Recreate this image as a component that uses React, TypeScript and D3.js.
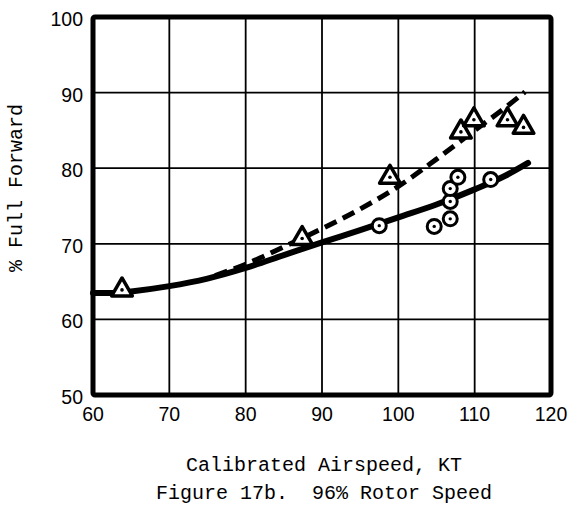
import React from "react";
import * as d3 from "d3";

const xTicks = [60, 70, 80, 90, 100, 110, 120];
const yTicks = [50, 60, 70, 80, 90, 100];

const triangleX = [63.8, 87.4, 98.9, 108.2, 109.9, 114.3, 116.4];
const triangleY = [63.9, 70.7, 78.8, 84.8, 86.4, 86.4, 85.4];

const circleX = [97.5, 104.7, 106.8, 106.8, 106.8, 107.8, 112.1];
const circleY = [72.4, 72.3, 73.3, 75.6, 77.3, 78.8, 78.5];

const solidX = [60, 63, 65, 70, 75, 80, 85, 90, 95, 100, 105, 110, 114, 117];
const solidY = [63.5, 63.5, 63.7, 64.4, 65.4, 66.8, 68.5, 70.2, 71.8, 73.5, 75.2, 77.2, 79, 80.7];

const dashX = [76, 80, 85, 90, 95, 100, 105, 110, 114, 116.6];
const dashY = [65.8, 67.3, 69.6, 72, 74.6, 77.6, 81.2, 85, 88, 90.1];

const W = 568;
const H = 507;
const M = { left: 93, right: 551, top: 17, bottom: 395 };

export default function App() {
  const x = d3.scaleLinear().domain([60, 120]).range([M.left, M.right]);
  const y = d3.scaleLinear().domain([50, 100]).range([M.bottom, M.top]);
  const line = d3
    .line<[number, number]>()
    .x((d) => x(d[0]))
    .y((d) => y(d[1]))
    .curve(d3.curveMonotoneX);
  const solid = line(solidX.map((v, i) => [v, solidY[i]]) as [number, number][]);
  const dash = line(dashX.map((v, i) => [v, dashY[i]]) as [number, number][]);
  const tri = d3.symbol(d3.symbolTriangle, 185)();
  const tickFont = "Liberation Sans, Arial, sans-serif";
  const monoFont = "Liberation Mono, Courier New, monospace";

  return (
    <svg
      width={W}
      height={H}
      style={{ position: "absolute", left: 0, top: 0, background: "#fff" }}
    >
      <rect x={0} y={0} width={W} height={H} fill="#fff" />
      {xTicks.map((t) => (
        <line key={"gx" + t} x1={x(t)} x2={x(t)} y1={M.top} y2={M.bottom} stroke="#000" strokeWidth={1.8} />
      ))}
      {yTicks.map((t) => (
        <line key={"gy" + t} x1={M.left} x2={M.right} y1={y(t)} y2={y(t)} stroke="#000" strokeWidth={1.8} />
      ))}
      <rect
        x={M.left}
        y={M.top}
        width={M.right - M.left}
        height={M.bottom - M.top}
        fill="none"
        stroke="#000"
        strokeWidth={5}
        rx={2}
      />
      <path d={solid || ""} fill="none" stroke="#000" strokeWidth={6} strokeLinecap="round" />
      <path d={dash || ""} fill="none" stroke="#000" strokeWidth={5} strokeDasharray="13 7" />
      {circleX.map((cx, i) => (
        <g key={"c" + i} transform={`translate(${x(cx)},${y(circleY[i])})`}>
          <circle r={7} fill="#fff" stroke="#000" strokeWidth={3} />
          <circle r={1.7} fill="#000" />
        </g>
      ))}
      {triangleX.map((tx, i) => (
        <g key={"t" + i} transform={`translate(${x(tx)},${y(triangleY[i])})`}>
          <path d={tri || ""} fill="#fff" stroke="#000" strokeWidth={3.5} strokeLinejoin="round" />
          <circle r={1.8} fill="#000" />
        </g>
      ))}
      {xTicks.map((t) => (
        <text key={"tx" + t} x={x(t)} y={421} textAnchor="middle" fontFamily={tickFont} fontSize={19.5}>
          {t}
        </text>
      ))}
      {yTicks.map((t) => (
        <text key={"ty" + t} x={83} y={y(t) + 9} textAnchor="end" fontFamily={tickFont} fontSize={19.5}>
          {t}
        </text>
      ))}
      <text
        transform={`translate(22,188) rotate(-90)`}
        textAnchor="middle"
        fontFamily={monoFont}
        fontSize={20}
      >
        % Full Forward
      </text>
      <text x={324} y={471} textAnchor="middle" fontFamily={monoFont} fontSize={20}>
        Calibrated Airspeed, KT
      </text>
      <text x={324} y={499} textAnchor="middle" fontFamily={monoFont} fontSize={20} style={{ whiteSpace: "pre" }}>
        {"Figure 17b.  96% Rotor Speed"}
      </text>
    </svg>
  );
}
